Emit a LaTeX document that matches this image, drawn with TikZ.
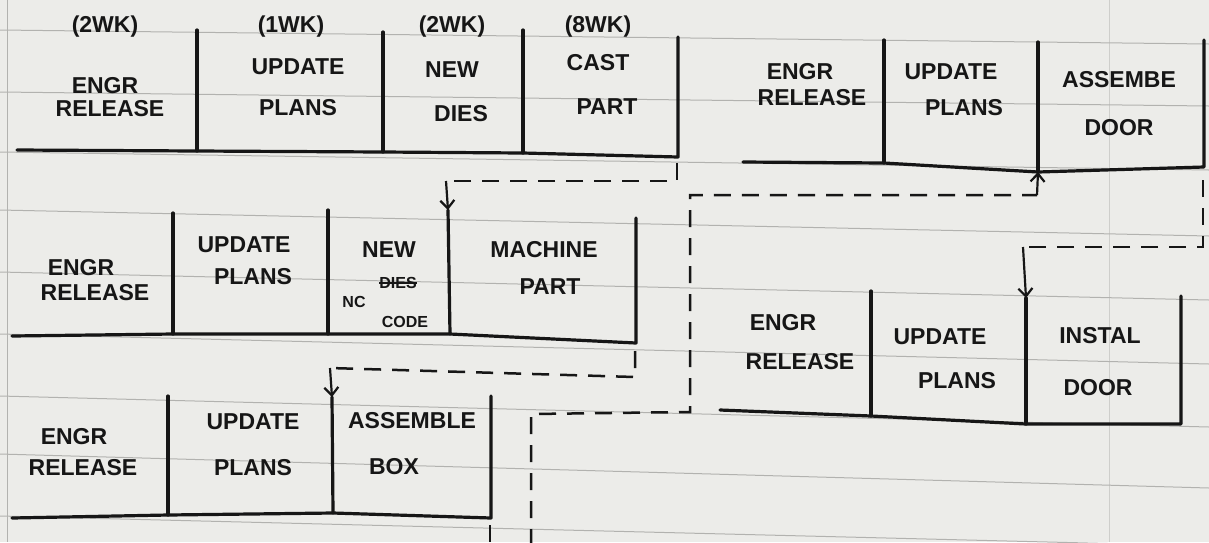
\documentclass[tikz,border=0pt]{standalone}
\usepackage{fontspec}
\setmainfont{Liberation Sans}
\usetikzlibrary{arrows.meta}
\definecolor{paper}{RGB}{236,236,233}
\definecolor{ruled}{RGB}{178,178,175}
\definecolor{ink}{RGB}{22,22,22}
\tikzset{
  box/.style={draw=ink, line width=3.2pt, line join=round, line cap=round},
  flow/.style={draw=ink, line width=2.5pt, dash pattern=on 17pt off 11pt},
  tip/.style={draw=ink, line width=2.2pt, -{Straight Barb[length=8pt,width=14pt,line width=2.2pt]}},
  lbl/.style={text=ink, font=\fontsize{23}{23}\selectfont\bfseries, inner sep=0pt, anchor=center},
  sml/.style={text=ink, font=\fontsize{16}{16}\selectfont\bfseries, inner sep=0pt, anchor=center},
  strike/.style={draw=ink, line width=2pt},
  paperline/.style={draw=ruled, line width=1pt}
}
\begin{document}
\begin{tikzpicture}[x=1pt,y=-1pt]
\fill[paper] (0,0) rectangle (1209,542);
\useasboundingbox (0,0) rectangle (1209,542);
% ruled paper
\foreach \yl/\yr in {30/44, 92/106, 152/170, 210/236, 272/300, 334/364, 396/427, 454/488, 516/546}
  \draw[paperline] (0,\yl) -- (1209,\yr);
\draw[paperline] (7,0) -- (7,542);
\draw[paperline, draw opacity=0.5] (1109,0) -- (1109,542);

% ---------- Row 1 ----------
\coordinate (r1s) at (17,150);
\coordinate (r1d1b) at (197,151); \coordinate (r1d1t) at (197,30);
\coordinate (r1d2b) at (383,152); \coordinate (r1d2t) at (383,32);
\coordinate (r1d3b) at (523,153); \coordinate (r1d3t) at (523,30);
\coordinate (r1eb) at (678,157);  \coordinate (r1et) at (678,37);
\draw[box] (r1s) -- (r1d1b) -- (r1d2b) -- (r1d3b) -- (r1eb) -- (r1et);
\draw[box] (r1d1t) -- (r1d1b);
\draw[box] (r1d2t) -- (r1d2b);
\draw[box] (r1d3t) -- (r1d3b);
\node[lbl] (r1w1) at (105,27) {(2WK)};
\node[lbl] (r1a1) at (105,86) {ENGR};
\node[lbl] (r1a2) at (110,109) {RELEASE};
\node[lbl] (r1w2) at (291,27) {(1WK)};
\node[lbl] (r1b1) at (298,67) {UPDATE};
\node[lbl] (r1b2) at (298,108) {PLANS};
\node[lbl] (r1w3) at (452,27) {(2WK)};
\node[lbl] (r1c1) at (452,70) {NEW};
\node[lbl] (r1c2) at (461,114) {DIES};
\node[lbl] (r1w4) at (598,27) {(8WK)};
\node[lbl] (r1d1) at (598,63) {CAST};
\node[lbl] (r1d2) at (607,107) {PART};

% ---------- Row A (top right) ----------
\coordinate (rAs) at (743,162);
\coordinate (rAd1b) at (884,163); \coordinate (rAd1t) at (884,40);
\coordinate (rAd2b) at (1038,172); \coordinate (rAd2t) at (1038,42);
\coordinate (rAeb) at (1204,167); \coordinate (rAet) at (1204,40);
\draw[box] (rAs) -- (rAd1b) -- (rAd2b) -- (rAeb) -- (rAet);
\draw[box] (rAd1t) -- (rAd1b);
\draw[box] (rAd2t) -- (rAd2b);
\node[lbl] (rAa1) at (800,72) {ENGR};
\node[lbl] (rAa2) at (812,98) {RELEASE};
\node[lbl] (rAb1) at (951,72) {UPDATE};
\node[lbl] (rAb2) at (964,108) {PLANS};
\node[lbl] (rAc1) at (1119,80) {ASSEMBE};
\node[lbl] (rAc2) at (1119,128) {DOOR};

% ---------- Row 2 ----------
\coordinate (r2s) at (12,336);
\coordinate (r2d1b) at (173,334); \coordinate (r2d1t) at (173,213);
\coordinate (r2d2b) at (328,334); \coordinate (r2d2t) at (328,210);
\coordinate (r2d3b) at (450,334); \coordinate (r2d3t) at (448,210);
\coordinate (r2eb) at (636,343);  \coordinate (r2et) at (636,218);
\draw[box] (r2s) -- (r2d1b) -- (r2d2b) -- (r2d3b) -- (r2eb) -- (r2et);
\draw[box] (r2d1t) -- (r2d1b);
\draw[box] (r2d2t) -- (r2d2b);
\draw[box] (r2d3t) -- (r2d3b);
\node[lbl] (r2a1) at (81,268) {ENGR};
\node[lbl] (r2a2) at (95,293) {RELEASE};
\node[lbl] (r2b1) at (244,245) {UPDATE};
\node[lbl] (r2b2) at (253,277) {PLANS};
\node[lbl] (r2c1) at (389,250) {NEW};
\node[sml] (r2c2) at (398,283) {DIES};
\draw[strike] (r2c2.west) -- (r2c2.east);
\node[sml] (r2c3) at (354,302) {NC};
\node[sml] (r2c4) at (405,322) {CODE};
\node[lbl] (r2d1) at (544,250) {MACHINE};
\node[lbl] (r2d2) at (550,287) {PART};

% ---------- Row B (right middle) ----------
\coordinate (rBs) at (720,410);
\coordinate (rBd1b) at (871,416); \coordinate (rBd1t) at (871,291);
\coordinate (rBd2b) at (1026,424); \coordinate (rBd2t) at (1026,298);
\coordinate (rBeb) at (1181,424); \coordinate (rBet) at (1181,296);
\draw[box] (rBs) -- (rBd1b) -- (rBd2b) -- (rBeb) -- (rBet);
\draw[box] (rBd1t) -- (rBd1b);
\draw[box] (rBd2t) -- (rBd2b);
\node[lbl] (rBa1) at (783,323) {ENGR};
\node[lbl] (rBa2) at (800,362) {RELEASE};
\node[lbl] (rBb1) at (940,337) {UPDATE};
\node[lbl] (rBb2) at (957,381) {PLANS};
\node[lbl] (rBc1) at (1100,336) {INSTAL};
\node[lbl] (rBc2) at (1098,388) {DOOR};

% ---------- Row 3 ----------
\coordinate (r3s) at (12,518);
\coordinate (r3d1b) at (168,515); \coordinate (r3d1t) at (168,396);
\coordinate (r3d2b) at (333,513); \coordinate (r3d2t) at (332,397);
\coordinate (r3eb) at (491,518);  \coordinate (r3et) at (491,396);
\draw[box] (r3s) -- (r3d1b) -- (r3d2b) -- (r3eb) -- (r3et);
\draw[box] (r3d1t) -- (r3d1b);
\draw[box] (r3d2t) -- (r3d2b);
\node[lbl] (r3a1) at (74,437) {ENGR};
\node[lbl] (r3a2) at (83,468) {RELEASE};
\node[lbl] (r3b1) at (253,422) {UPDATE};
\node[lbl] (r3b2) at (253,468) {PLANS};
\node[lbl] (r3c1) at (412,421) {ASSEMBLE};
\node[lbl] (r3c2) at (394,467) {BOX};

% ---------- dashed connectors ----------
% Row 1 -> Row 2 (machine part)
\coordinate (c1a) at (677,163);
\coordinate (c1b) at (677,181);
\coordinate (c1c) at (446,181);
\draw[flow] (c1a) -- (c1b) -- (c1c);
\draw[tip] (c1c) -- (r2d3t);
% Row 2 -> Row 3 (assemble box)
\coordinate (c2a) at (635,351);
\coordinate (c2b) at (635,377);
\coordinate (c2c) at (330,368);
\draw[flow] (c2a) -- (c2b) -- (c2c);
\draw[tip] (c2c) -- (r3d2t);
% Row 3 -> off page
\coordinate (c3a) at (490,525);
\coordinate (c3b) at (490,546);
\draw[flow] (c3a) -- (c3b);
% from below -> assemble door
\coordinate (c4a) at (531,546);
\coordinate (c4b) at (531,414);
\coordinate (c4c) at (690,412);
\coordinate (c4d) at (690,195);
\coordinate (c4e) at (1037,195);
\draw[flow] (c4a) -- (c4b) -- (c4c) -- (c4d) -- (c4e);
\draw[tip] (c4e) -- (rAd2b);
% assemble door -> install door
\coordinate (c5a) at (1203,180);
\coordinate (c5b) at (1203,247);
\coordinate (c5c) at (1023,247);
\draw[flow] (c5a) -- (c5b) -- (c5c);
\draw[tip] (c5c) -- (rBd2t);
\end{tikzpicture}
\end{document}
